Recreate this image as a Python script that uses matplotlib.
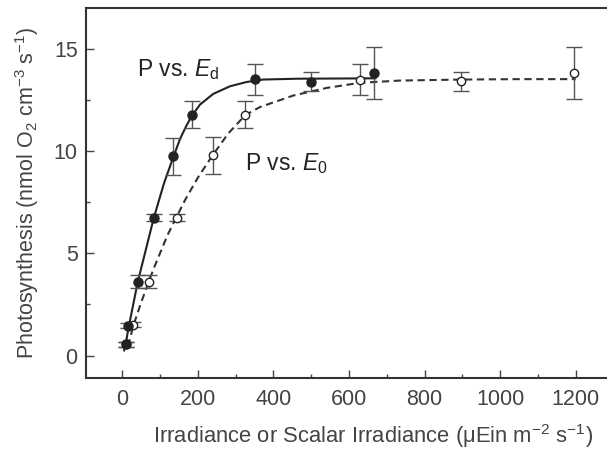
import matplotlib
matplotlib.use("Agg")
import matplotlib.pyplot as plt
from matplotlib.ticker import MultipleLocator

plt.rcParams['font.family'] = ['Liberation Sans', 'DejaVu Sans']
plt.rcParams['mathtext.fontset'] = 'custom'
plt.rcParams['mathtext.rm'] = 'Liberation Sans'
plt.rcParams['mathtext.it'] = 'Liberation Sans:italic'

# P vs. Ed (filled circles)
ed_x = [9, 16, 41, 83, 133, 184, 351, 499, 666]
ed_y = [0.55, 1.46, 3.6, 6.75, 9.74, 11.78, 13.51, 13.4, 13.84]
ed_err = [0.12, 0.12, 0.32, 0.18, 0.9, 0.65, 0.75, 0.45, 1.27]

# P vs. E0 (open circles)
e0_x = [11, 29, 72, 146, 239, 325, 630, 896, 1196]
e0_y = [0.55, 1.5, 3.6, 6.75, 9.79, 11.79, 13.5, 13.41, 13.82]
e0_err = [0.12, 0.12, 0.32, 0.18, 0.9, 0.65, 0.75, 0.46, 1.26]

# fitted curves
fit_ed_x = [5, 9, 16, 41, 83, 110, 133, 153, 170, 184, 206, 241, 285, 329, 373, 462, 560, 670]
fit_ed_y = [0.25, 0.55, 1.3, 3.6, 6.7, 8.4, 9.6, 10.6, 11.25, 11.72, 12.28, 12.8, 13.17, 13.38, 13.5, 13.54, 13.55, 13.56]
fit_e0_x = [15, 30, 50, 82, 120, 166, 200, 239, 280, 325, 364, 453, 541, 629, 735, 900, 1050, 1200]
fit_e0_y = [0.45, 1.5, 2.6, 4.2, 5.9, 7.6, 8.7, 9.79, 10.85, 11.75, 12.15, 12.72, 13.09, 13.34, 13.45, 13.5, 13.52, 13.52]

fig = plt.figure(figsize=(6.07, 4.51), dpi=100)
ax = fig.add_axes([86 / 607, 73 / 451, (613.4 - 86) / 607, 370 / 451])

ink = "#222222"
errc = "#555555"

ax.plot(fit_ed_x, fit_ed_y, color=ink, lw=1.5, zorder=2)
ax.plot(fit_e0_x, fit_e0_y, color="#333333", lw=1.5, ls=(0, (3.5, 2.2)), zorder=2)

ax.errorbar(e0_x, e0_y, yerr=e0_err, fmt="none", ecolor=errc, elinewidth=1.0,
            capsize=5.5, capthick=1.0, zorder=3)
ax.errorbar(ed_x, ed_y, yerr=ed_err, fmt="none", ecolor=errc, elinewidth=1.0,
            capsize=5.5, capthick=1.0, zorder=3)
ax.plot(e0_x, e0_y, "o", ms=6, mfc="white", mec=ink, mew=1.0, zorder=4)
ax.plot(ed_x, ed_y, "o", ms=6.5, mfc=ink, mec=ink, zorder=5)

ax.text(39, 14.0, r"P vs. $\mathit{E}_\mathrm{d}$", fontsize=16.5, va="center", color=ink)
ax.text(325, 9.4, r"P vs. $\mathit{E}_\mathrm{0}$", fontsize=16.5, va="center", color=ink)

ax.set_xlim(-96, 1300)
ax.set_ylim(-1.1, 17)
ax.xaxis.set_major_locator(MultipleLocator(200))
ax.xaxis.set_minor_locator(MultipleLocator(100))
ax.yaxis.set_major_locator(MultipleLocator(5))
ax.yaxis.set_minor_locator(MultipleLocator(2.5))
ax.tick_params(which="both", direction="in", colors="#444444", labelcolor="#444444",
               labelsize=15.5, width=1.0)
ax.tick_params(which="major", length=6)
ax.tick_params(which="minor", length=3)
ax.tick_params(axis="x", pad=8)
ax.tick_params(axis="y", pad=6)
for s in ax.spines.values():
    s.set_linewidth(1.5)
    s.set_color("#333333")

ax.set_xlabel("Irradiance or Scalar Irradiance (μEin m$^{-2}$ s$^{-1}$)",
              fontsize=15.8, color="#444444", labelpad=8)
ax.set_ylabel(r"Photosynthesis (nmol O$_2$ cm$^{-3}$ s$^{-1}$)",
              fontsize=15.5, color="#444444", labelpad=6)
ax.xaxis.set_label_coords((373 - 86) / (613.4 - 86), -0.12)
ax.yaxis.set_label_coords(-0.085, 0.5)

fig.savefig("out.png", dpi=100)
